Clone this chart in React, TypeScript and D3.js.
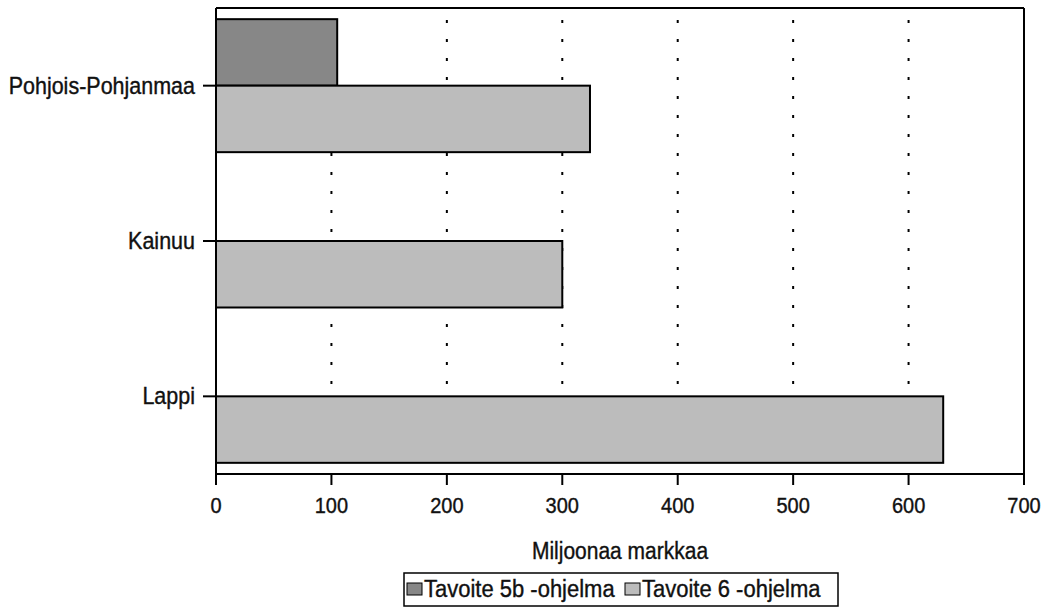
import React from "react";
import * as d3 from "d3";

const categories = ["Pohjois-Pohjanmaa", "Kainuu", "Lappi"];
const seriesNames = ["Tavoite 5b -ohjelma", "Tavoite 6 -ohjelma"];
const tavoite5b = [105, 0, 0];
const tavoite6 = [324, 300, 630];
const xTicks = [0, 100, 200, 300, 400, 500, 600, 700];
const xTitle = "Miljoonaa markkaa";

const seriesValues = [tavoite5b, tavoite6];
const seriesFill = ["#878787", "#bcbcbc"];

const font = "Arial, 'Liberation Sans', Helvetica, sans-serif";

function T(props: {
  x: number;
  y: number;
  size: number;
  anchor?: string;
  children: React.ReactNode;
}) {
  return (
    <text
      transform={`translate(${props.x},${props.y}) scale(1,1.12)`}
      textAnchor={props.anchor || "start"}
      fontFamily={font}
      fontSize={props.size}
      fill="#111"
      stroke="#111"
      strokeWidth={0.35}
    >
      {props.children}
    </text>
  );
}

export default function App() {
  const W = 1046, H = 609;
  const left = 216, right = 1024, top = 8, bottom = 474;

  const x = d3.scaleLinear().domain([0, 700]).range([left, right]);
  const y = d3.scaleBand<string>().domain(categories).range([top, bottom]).padding(0);
  const inner = d3
    .scaleBand<string>()
    .domain(seriesNames)
    .range([0, y.step()])
    .paddingInner(0)
    .paddingOuter(0.168);

  const legendX = [407, 625];

  return (
    <svg width={W} height={H} style={{ position: "absolute", left: 0, top: 0, background: "#fff" }}>
      <rect x={0} y={0} width={W} height={H} fill="#fff" />
      {/* gridlines */}
      {xTicks.slice(1, -1).map((t) => (
        <line
          key={"g" + t}
          x1={x(t)}
          x2={x(t)}
          y1={top + 12}
          y2={bottom}
          stroke="#000"
          strokeWidth={2}
          strokeDasharray="3,16"
        />
      ))}
      {/* bars */}
      {categories.map((c, ci) =>
        seriesNames.map((s, si) => {
          const v = seriesValues[si][ci];
          if (!v) return null;
          const y0 = (y(c) as number) + (inner(s) as number);
          return (
            <rect
              key={c + s}
              x={x(0)}
              y={y0}
              width={x(v) - x(0)}
              height={inner.bandwidth()}
              fill={seriesFill[si]}
              stroke="#000"
              strokeWidth={2}
            />
          );
        })
      )}
      {/* plot frame */}
      <line x1={left} x2={right} y1={top} y2={top} stroke="#000" strokeWidth={2} />
      <line x1={right} x2={right} y1={top} y2={bottom} stroke="#000" strokeWidth={2} />
      <line x1={left} x2={left} y1={top} y2={bottom} stroke="#000" strokeWidth={2} />
      <line x1={left} x2={right} y1={bottom} y2={bottom} stroke="#000" strokeWidth={2} />
      {/* x ticks */}
      {xTicks.map((t) => (
        <g key={"t" + t}>
          <line x1={x(t)} x2={x(t)} y1={bottom} y2={bottom + 11} stroke="#000" strokeWidth={2} />
          <T x={x(t)} y={bottom + 39} size={20} anchor="middle">
            {t}
          </T>
        </g>
      ))}
      {/* category ticks and labels */}
      {categories.map((c) => {
        const cy = (y(c) as number) + y.bandwidth() / 2;
        return (
          <g key={"c" + c}>
            <line x1={left - 13} x2={left} y1={cy} y2={cy} stroke="#000" strokeWidth={2} />
            <T x={left - 21} y={cy + 8} size={21.5} anchor="end">
              {c}
            </T>
          </g>
        );
      })}
      {/* axis title */}
      <T x={(left + right) / 2} y={559} size={21} anchor="middle">
        {xTitle}
      </T>
      {/* legend */}
      <rect x={404} y={573} width={434} height={33} fill="#fff" stroke="#000" strokeWidth={1.5} />
      {seriesNames.map((s, i) => (
        <g key={"l" + s}>
          <rect
            x={legendX[i]}
            y={583}
            width={15}
            height={12}
            fill={seriesFill[i]}
            stroke="#000"
            strokeWidth={1}
          />
          <T x={legendX[i] + 17} y={597} size={22}>
            {s}
          </T>
        </g>
      ))}
    </svg>
  );
}
